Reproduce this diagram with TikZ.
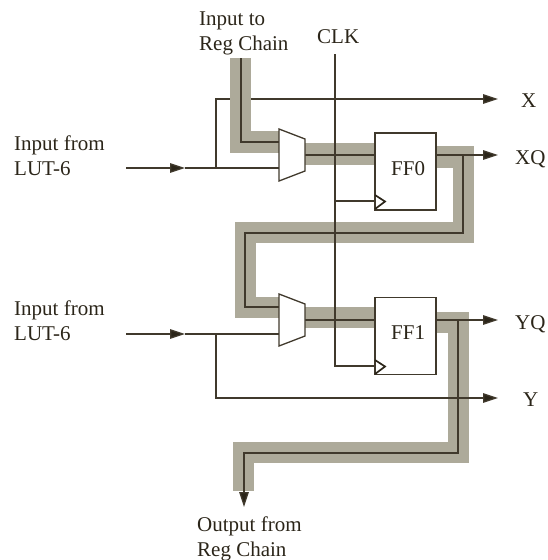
\documentclass[tikz,border=0pt]{standalone}
\usepackage{fontspec}
\setmainfont{Liberation Serif}
\usetikzlibrary{arrows.meta}
\definecolor{bandc}{HTML}{ADAA9A}
\definecolor{linec}{HTML}{40392C}
\definecolor{textc}{HTML}{2B2519}
\tikzset{
  band/.style={draw=bandc,line width=21.5pt,line join=miter,line cap=butt},
  wire/.style={draw=linec,line width=1.3pt},
  arrowed/.style={wire,-{Triangle[length=15pt,width=9.5pt,fill=textc]}},
  lab/.style={text=textc,font=\fontsize{21}{25}\selectfont,align=left,inner sep=0pt,anchor=base west},
  ffbox/.style={draw=linec,line width=1.3pt,fill=white,rectangle,minimum width=61pt,minimum height=77pt,inner sep=0pt},
  muxshape/.style={draw=linec,line width=1.3pt,fill=white,line join=miter},
  clkmark/.style={draw=textc,line width=1.7pt,line join=miter}
}
\begin{document}
\begin{tikzpicture}[x=1pt,y=-1pt]
\useasboundingbox (0,0) rectangle (547,560);
% named points
\coordinate (chainin) at (241,58);
\coordinate (clktop) at (335,54);
\coordinate (inA) at (126,168);
\coordinate (arrA) at (185,168);
\coordinate (inB) at (126,334);
\coordinate (arrB) at (185,334);
\coordinate (brA) at (216,168);
\coordinate (brB) at (216,334);
\coordinate (muxAin1) at (279,142);
\coordinate (muxAin2) at (279,168);
\coordinate (muxAout) at (305,155);
\coordinate (muxBin1) at (279,307);
\coordinate (muxBin2) at (279,334);
\coordinate (muxBout) at (305,320);
\coordinate (xend) at (498,99);
\coordinate (xqend) at (498,155);
\coordinate (yqend) at (498,320);
\coordinate (yend) at (498,398);
\coordinate (outend) at (244,507);
\coordinate (tapA) at (463,155);
\coordinate (tapB) at (458,320);
\node[ffbox] (ff0) at (405.5,171.5) {};
\node[ffbox] (ff1) at (405.5,336) {};
\coordinate (ck0) at (375,201);
\coordinate (ck1) at (375,366);
% X wire lies under the band
\draw[wire] (brA) |- (241,99);
\draw[arrowed] (251,99) -- (xend);
% bands
\path[band] (240.5,58) -- (240.5,142) -- (muxAin1);
\path[band] (muxAout |- 0,154) -- (ff0.west |- 0,154);
\path[band] (ff0.east |- 0,157) -- (463.5,157) -- (463.5,232.5) -- (245.5,232.5) -- (245.5,307.5) -- (muxBin1 |- 0,307.5);
\path[band] (muxBout |- 0,317.5) -- (ff1.west |- 0,317.5);
\path[band] (ff1.east |- 0,322.5) -- (458.5,322.5) -- (458.5,452.5) -- (243.5,452.5) -- (243.5,491);
% wires
\draw[wire] (chainin) |- (muxAin1);
\draw[wire] (muxAout) -- (ff0.west |- muxAout);
\draw[wire] (muxBout) -- (ff1.west |- muxBout);
\draw[wire] (clktop) -- (335,366) -- (ck1);
\draw[wire] (335,201) -- (ck0);
\draw[arrowed] (inA) -- (arrA);
\draw[wire] (arrA) -- (muxAin2);
\draw[arrowed] (inB) -- (arrB);
\draw[wire] (arrB) -- (muxBin2);
\draw[wire] (brB) |- (241,398);
\draw[arrowed] (241,398) -- (yend);
\draw[arrowed] (ff0.east |- xqend) -- (xqend);
\draw[arrowed] (ff1.east |- yqend) -- (yqend);
\draw[wire] (tapA) -- (463,233) -- (245,233) -- (245,307) -- (muxBin1);
\draw[wire] (tapB) -- (458,453) -- (244,453) -- (244,492);
\draw[arrowed] (244,490) -- (outend);
% mux bodies
\path[muxshape] (279,129) -- (305,139) -- (305,171) -- (279,181) -- cycle;
\path[muxshape] (279,294) -- (305,304) -- (305,336) -- (279,346) -- cycle;
% flip-flops
\node[ffbox] at (ff0) {};
\node[ffbox] at (ff1) {};
\draw[clkmark] (375,195) -- (385,201.5) -- (375,209);
\draw[clkmark] (375,360) -- (385,366.5) -- (375,374);
% labels
\node[lab] (l1) at (199,50) {Input to\\Reg Chain};
\node[lab] (l2) at (317,43) {CLK};
\node[lab] (l3) at (14,175) {Input from\\LUT-6};
\node[lab] (l4) at (14,340) {Input from\\LUT-6};
\node[lab] (l5) at (521,107) {X};
\node[lab] (l6) at (515,164) {XQ};
\node[lab] (l7) at (515,329) {YQ};
\node[lab] (l8) at (523,406) {Y};
\node[lab] (l9) at (391,175) {FF0};
\node[lab] (l10) at (391,339) {FF1};
\node[lab] (l11) at (197,556) {Output from\\Reg Chain};
\end{tikzpicture}
\end{document}
